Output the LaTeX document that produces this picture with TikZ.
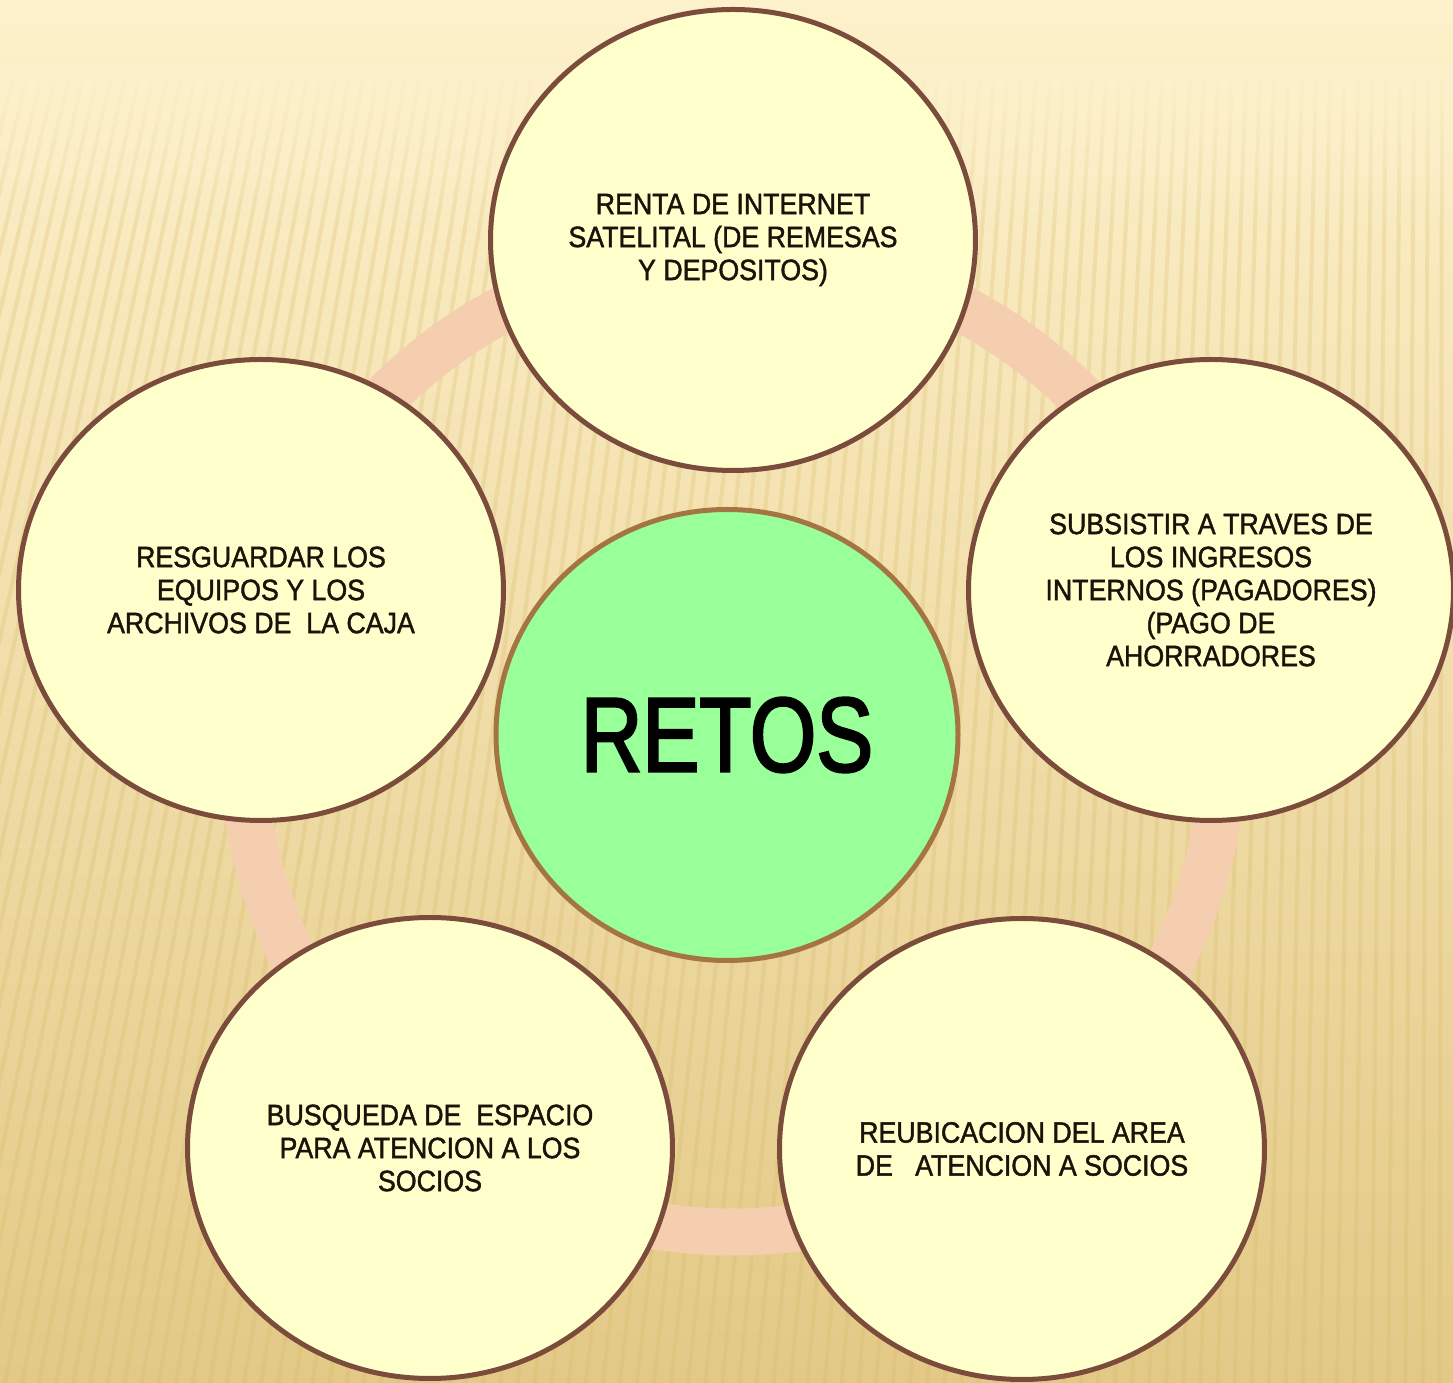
\documentclass[tikz,border=0pt]{standalone}
\usepackage{fontspec}
\setmainfont{Liberation Sans}
\newfontfamily\retofont[FakeStretch=0.91,FakeBold=1.4]{Liberation Sans}
\newfontfamily\titulofont[FakeStretch=0.805,FakeBold=2.2]{Liberation Sans}
\usetikzlibrary{shapes.geometric,fadings}
\definecolor{fondoA}{HTML}{FDF1CB}
\definecolor{fondoM}{HTML}{F8E7B6}
\definecolor{fondoB}{HTML}{E3C986}
\definecolor{rayaCol}{HTML}{D9B866}
\definecolor{anilloCol}{HTML}{F5CEAF}
\definecolor{rellenoReto}{HTML}{FFFFCC}
\definecolor{bordeReto}{HTML}{7B4B3C}
\definecolor{bordeCentro}{HTML}{A57443}
\definecolor{verdeCentro}{HTML}{99FF99}
\definecolor{textoCol}{HTML}{1B1209}
\tikzset{
	reto/.style={ellipse, draw=bordeReto, line width=2.5pt, fill=rellenoReto,
		minimum width=242.5pt, minimum height=230.5pt, inner sep=0pt,
		align=center, text=textoCol,
		font=\retofont\fontsize{14.7}{16.5}\selectfont},
	centro/.style={ellipse, draw=bordeCentro, line width=2.5pt, fill=verdeCentro,
		minimum width=231pt, minimum height=225.5pt, inner sep=0pt,
		font=\titulofont\fontsize{53}{60}\selectfont},
	anillo/.style={draw=anilloCol, line width=23.5pt},
	raya/.style={draw=rayaCol, line width=2pt, opacity=.25}
}

\begin{document}
\begin{tikzpicture}[x=0.5pt, y=0.5pt]
	\useasboundingbox (0,0) rectangle (1453,1383);
	% fondo
	\fill[top color=fondoA, middle color=fondoM, bottom color=fondoB] (0,0) rectangle (1453,1383);
	\foreach \x in {0,14,...,1460}
		\draw[raya] (\x,1310) -- ({\x-0.22*(1453-\x)},0);
	\fill[fondoA, path fading=south] (0,1150) rectangle (1453,1320);
	% anillo
	\coordinate (o) at (733,641);
	\draw[anillo] (o) circle[radius=490];
	% retos
	\node[centro] (c) at (727,648) {RETOS};
	\node[reto] (r1) at (733,1143) {RENTA DE INTERNET\\SATELITAL (DE REMESAS\\Y DEPOSITOS)};
	\node[reto] (r2) at (1211,793) {SUBSISTIR A TRAVES DE\\LOS INGRESOS\\INTERNOS (PAGADORES)\\(PAGO DE\\AHORRADORES};
	\node[reto] (r3) at (1022,234) {REUBICACION DEL AREA\\DE\ \ \ ATENCION A SOCIOS};
	\node[reto] (r4) at (430,235) {BUSQUEDA DE\ \ ESPACIO\\PARA ATENCION A LOS\\SOCIOS};
	\node[reto] (r5) at (261,793) {RESGUARDAR LOS\\EQUIPOS Y LOS\\ARCHIVOS DE\ \ LA CAJA};
\end{tikzpicture}
\end{document}
